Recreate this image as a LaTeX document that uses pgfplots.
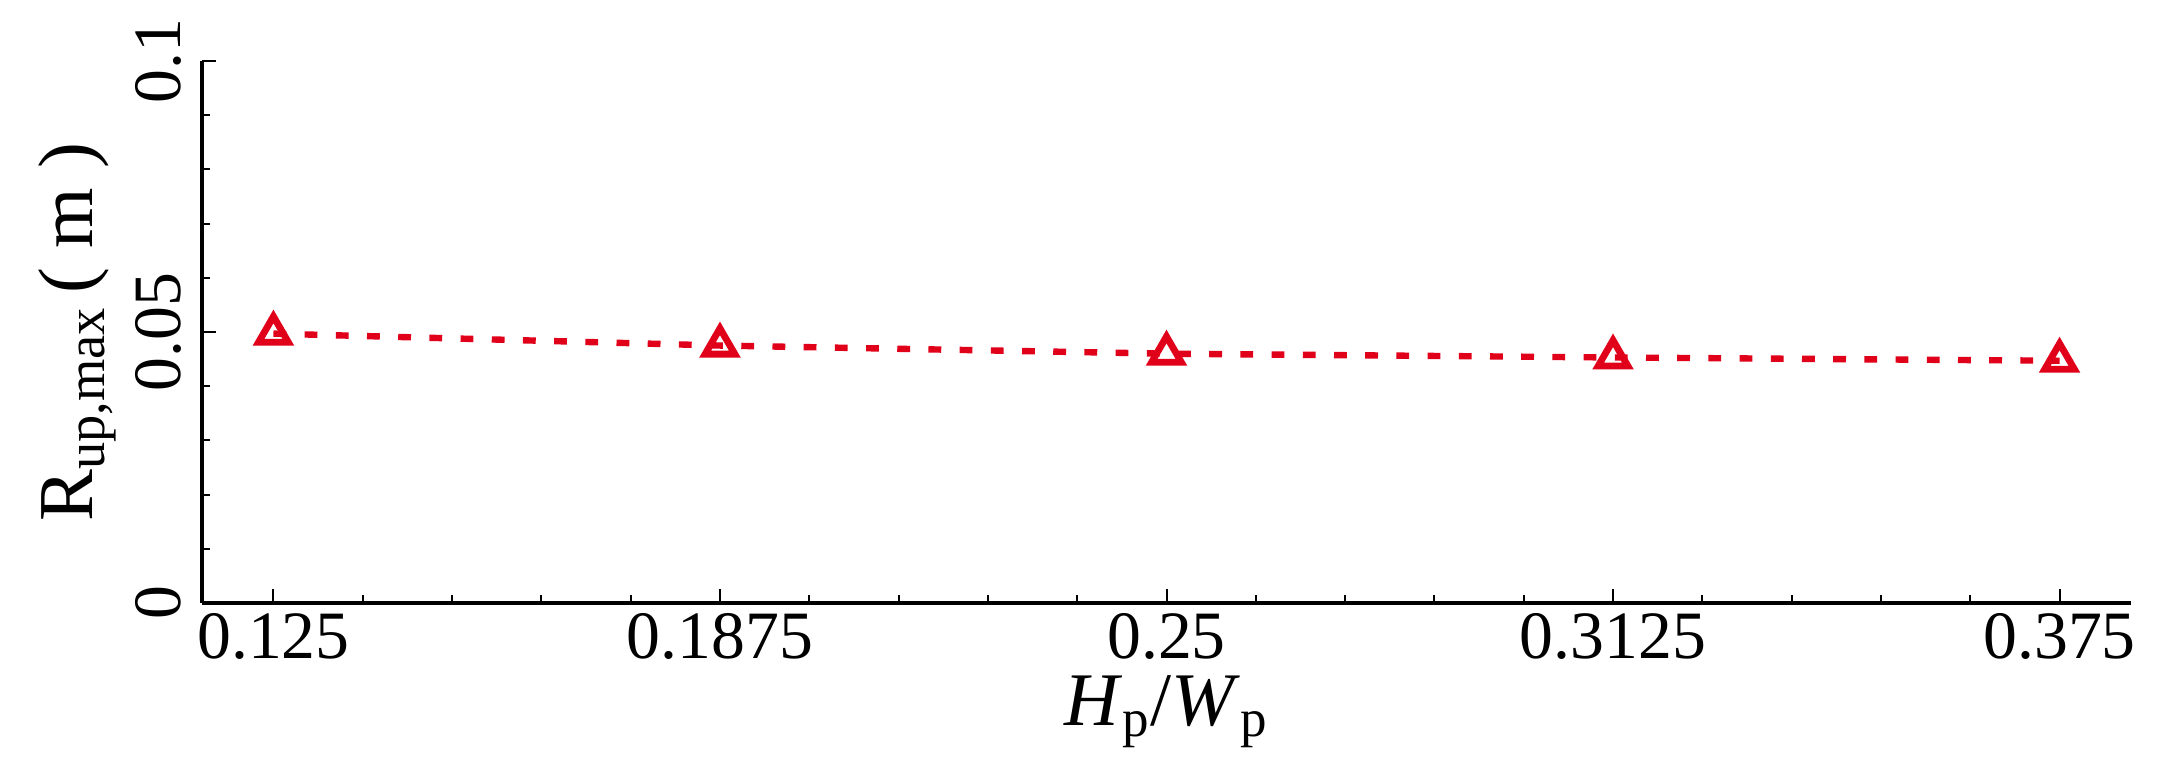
\documentclass[border=0pt]{standalone}
\usepackage{fontspec}
\setmainfont{Liberation Serif}
\usepackage{pgfplots}
\pgfplotsset{compat=1.18}
\definecolor{lred}{RGB}{225,0,25}
\begin{document}
\begin{tikzpicture}
\begin{axis}[
  scale only axis,
  width=482.25bp, height=135.5bp,
  xmin=0.115, xmax=0.385,
  ymin=0, ymax=0.1,
  axis x line=bottom, axis y line=left,
  axis line style={-, line width=1.2bp, black},
  xtick={0.125,0.1875,0.25,0.3125,0.375},
  xticklabels={0.125,0.1875,0.25,0.3125,0.375},
  ytick={0,0.05,0.1},
  yticklabels={0,0.05,0.1},
  minor x tick num=4, minor y tick num=4,
  tick align=inside,
  major tick length=3.6bp, minor tick length=2bp,
  every tick/.style={black, line width=0.5bp},
  tick label style={font=\fontsize{17}{20}\selectfont},
  xticklabel style={inner sep=0pt, anchor=north, yshift=-2.3bp},
  yticklabel style={inner sep=0pt, xshift=-5bp, rotate=90, anchor=south},
  xlabel={\textit{H}\textsubscript{p}/\textit{W}\textsubscript{p}},
  ylabel={R\textsubscript{up,max}\,( m )},
  xlabel style={font=\fontsize{19}{22}\selectfont, inner sep=0pt, at={(axis description cs:0.5,0)}, anchor=north, yshift=-18bp},
  ylabel style={font=\fontsize{19.5}{22}\selectfont, inner sep=0pt, at={(axis description cs:-0.044,0.5)}, rotate=0, anchor=south},
]
\addplot[color=lred, line width=1.6bp, dash pattern=on 3.2bp off 4.6bp,
  mark=triangle, mark size=4.3bp, mark options={solid, line width=1.7bp, fill=white}]
  coordinates {
  (0.125,0.0497)
  (0.1875,0.0475)
  (0.25,0.0460)
  (0.3125,0.0453)
  (0.375,0.0447)
  };
\coordinate (bl) at (rel axis cs:0,0);
\coordinate (tr) at (rel axis cs:1,1);
\end{axis}
\pgfresetboundingbox
\useasboundingbox ([xshift=-50.5bp,yshift=-42.5bp]bl) rectangle ([xshift=9.5bp,yshift=15.25bp]tr);
\end{tikzpicture}
\end{document}
